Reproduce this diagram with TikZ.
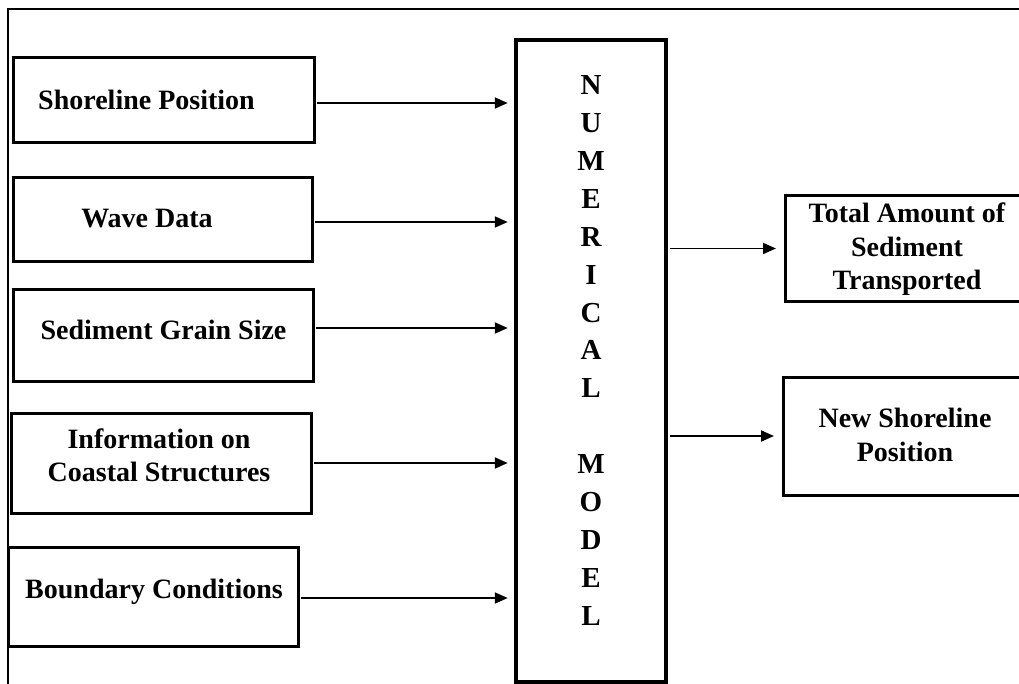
\documentclass[tikz,border=0pt]{standalone}
\usepackage{fontspec}
\setmainfont{Liberation Serif}
\usetikzlibrary{arrows.meta,calc}
\begin{document}
\begin{tikzpicture}[x=1bp,y=-1bp,
  inbox/.style={draw, line width=3bp, inner sep=0pt},
  modelbox/.style={draw, line width=4.5bp, inner sep=0pt},
  lbl/.style={font=\fontsize{28bp}{33.5bp}\selectfont\bfseries, align=center, inner sep=0pt},
  letters/.style={font=\fontsize{29bp}{37.9bp}\selectfont\bfseries, align=center, inner sep=0pt},
  arr/.style={line width=1.8bp, -{Triangle[length=13bp,width=11bp]}},
]
\useasboundingbox (0,0) rectangle (1019,684);
\clip (0,0) rectangle (1019,684);

% page frame (left and top edges)
\draw[line width=2.2bp] (8,700) -- (8,9) -- (1030,9);

% input boxes
\node[inbox, minimum width=300bp, minimum height=84bp]  (b1) at (164,100)   {};
\node[inbox, minimum width=298bp, minimum height=83bp]  (b2) at (163,219.5) {};
\node[inbox, minimum width=299bp, minimum height=92bp]  (b3) at (163.5,335) {};
\node[inbox, minimum width=299bp, minimum height=100bp] (b4) at (161.5,463) {};
\node[inbox, minimum width=289bp, minimum height=99bp]  (b5) at (153.5,596.5) {};

\node[lbl, anchor=base] (t1) at (146.5,110) {Shoreline Position};
\node[lbl, anchor=base] (t2) at (147,227)   {Wave Data};
\node[lbl, anchor=base] (t3) at (163.5,339) {Sediment Grain Size};
\node[lbl]              (t4) at (159,455.5) {Information on\\Coastal Structures};
\node[lbl, anchor=base] (t5) at (154,598)   {Boundary Conditions};

% numerical model
\node[modelbox, minimum width=150bp, minimum height=642bp] (m) at (591,361) {};
\node[letters] (mt) at (591,350.5)
  {N\\U\\M\\E\\R\\I\\C\\A\\L\\\mbox{}\\M\\O\\D\\E\\L};

% output boxes
\node[inbox, minimum width=245bp, minimum height=105bp] (o1) at (907.5,248.5) {};
\node[inbox, minimum width=247bp, minimum height=118bp] (o2) at (906.5,436)   {};
\node[lbl] (u1) at (907,249.5) {Total Amount of\\Sediment\\Transported};
\node[lbl] (u2) at (905,435)   {New Shoreline\\Position};

% input connectors
\coordinate (a1) at ([yshift=-3bp]b1.east);
\coordinate (a2) at ([yshift=-2.5bp]b2.east);
\coordinate (a3) at ([yshift=7bp]b3.east);
\coordinate (a4) at (b4.east);
\coordinate (a5) at ([yshift=-1.5bp]b5.east);
\foreach \a in {a1,a2,a3,a4,a5}
  \draw[arr, shorten <=1.5bp, shorten >=6bp] (\a) -- (\a -| m.west);

% output connectors
\draw[arr, shorten <=2bp, shorten >=7.5bp] (m.east |- o1.west) -- (o1.west);
\draw[arr, shorten <=2bp, shorten >=7.5bp] (m.east |- o2.west) -- (o2.west);
\end{tikzpicture}
\end{document}
